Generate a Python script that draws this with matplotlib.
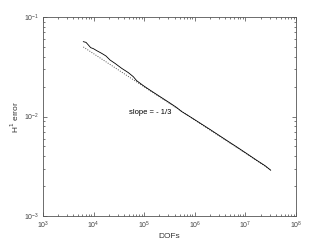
import numpy as np
import matplotlib
matplotlib.use("Agg")
import matplotlib.pyplot as plt

plt.rcParams['font.family'] = ['Liberation Sans', 'DejaVu Sans']

# H1 error vs. degrees of freedom (log10 values)
log_dofs = [3.797, 3.850, 3.896, 3.942, 3.995, 4.061, 4.159, 4.245, 4.324, 4.423,
            4.555, 4.686, 4.785, 4.851, 4.983, 5.115, 5.312, 5.510, 5.642, 5.740,
            5.905, 6.103, 6.300, 6.498, 6.696, 6.827, 7.025, 7.223, 7.387, 7.499]
log_err = [-1.248, -1.255, -1.281, -1.308, -1.318, -1.338, -1.365, -1.392, -1.432, -1.466,
           -1.516, -1.559, -1.600, -1.640, -1.690, -1.735, -1.800, -1.865, -1.910, -1.950,
           -2.002, -2.066, -2.130, -2.196, -2.262, -2.305, -2.372, -2.440, -2.494, -2.540]
dofs = 10 ** np.array(log_dofs)
err = 10 ** np.array(log_err)

# reference line with slope -1/3
ref_dofs = np.array([dofs[0], dofs[-1]])
ref_c = 0.05 * dofs[0] ** (1 / 3)
ref_err = ref_c * ref_dofs ** (-1 / 3)

fig = plt.figure(figsize=(3.27, 2.45), dpi=100)
ax = fig.add_axes([43 / 327, 1 - 216 / 245, 253 / 327, 199 / 245])

ax.loglog(ref_dofs, ref_err, color='#555555', linestyle=(0, (1, 1.5)), linewidth=0.7)
ax.loglog(dofs, err, color='black', linewidth=0.6)

ax.text(10 ** 4.69, 10 ** -1.96, 'slope = - 1/3', fontsize=5.5, va='center', ha='left')

ax.set_xlim(1e3, 1e8)
ax.set_ylim(1e-3, 1e-1)
ax.set_xlabel('DOFs', fontsize=6, color='#333333', labelpad=1)
ax.set_ylabel('H$^1$ error', fontsize=6, color='#333333', labelpad=2)

ax.tick_params(which='both', direction='in', top=True, right=True,
               labelsize=5, colors='#444444', width=0.5)
ax.tick_params(which='major', length=3, pad=3)
ax.tick_params(which='minor', length=1.5)
for s in ax.spines.values():
    s.set_linewidth(0.6)
    s.set_color('#555555')

fig.savefig('out.png', dpi=100)
